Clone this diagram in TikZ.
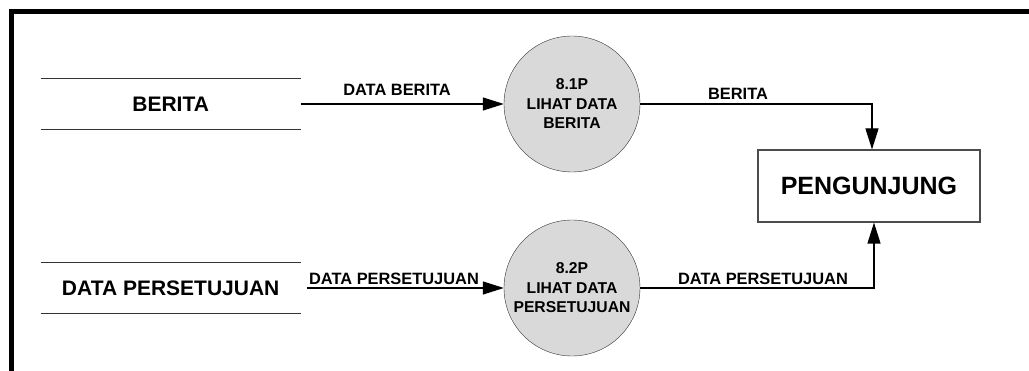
\documentclass[tikz,border=0pt]{standalone}
\usepackage{fontspec}
\setmainfont{Liberation Sans}
\usetikzlibrary{arrows.meta}
\begin{document}
\begin{tikzpicture}[x=1pt, y=-1pt,
    >={Triangle[length=21pt,width=13pt]},
    proc/.style={draw=black!80, fill=black!15, circle, minimum size=136pt,
      inner sep=0pt, align=center, font=\bfseries\fontsize{15.7}{19.5}\selectfont},
    store/.style={minimum width=260pt, minimum height=50pt, inner sep=0pt,
      font=\bfseries\fontsize{21}{25}\selectfont},
    entity/.style={draw=black!70, line width=1.2pt, minimum width=222pt,
      minimum height=72pt, inner sep=0pt, font=\bfseries\fontsize{25}{30}\selectfont},
    lbl/.style={anchor=base, inner sep=0pt, font=\bfseries\fontsize{16.4}{19}\selectfont},
    flow/.style={->, line width=1.2pt},
    storeline/.style={draw=black!80, line width=1pt}]

  \useasboundingbox (0,0) rectangle (1029,371);

  % frame
  \draw[line width=5pt, miter limit=10] (11,371) -- (11,12) -- (1029,12);

  % data stores
  \node[store] (st1) at (170.7,104) {BERITA};
  \node[store] (st2) at (170.7,288) {DATA PERSETUJUAN};
  \draw[storeline] (st1.north west) -- (st1.north east);
  \draw[storeline] (st1.south west) -- (st1.south east);
  \draw[storeline] (st2.north west) -- (st2.north east);
  \draw[storeline] (st2.south west) -- (st2.south east);

  % processes
  \node[proc] (p1) at (572,104) {8.1P\\LIHAT DATA\\BERITA};
  \node[proc] (p2) at (572,288) {8.2P\\LIHAT DATA\\PERSETUJUAN};

  % external entity
  \node[entity] (pg) at (869,186) {PENGUNJUNG};

  % flows
  \draw[flow] (st1.east) -- (p1.west);
  \draw[flow] ([xshift=6pt]st2.east) -- (p2.west);
  \draw[flow] (p1.east) -| ([xshift=3pt]pg.north);
  \draw[flow] (p2.east) -| ([xshift=5pt]pg.south);

  % flow labels
  \node[lbl] (l1) at (397,96)  {DATA BERITA};
  \node[lbl] (l2) at (394,285) {DATA PERSETUJUAN};
  \node[lbl] (l3) at (738,100) {BERITA};
  \node[lbl] (l4) at (763,285) {DATA PERSETUJUAN};
\end{tikzpicture}
\end{document}
